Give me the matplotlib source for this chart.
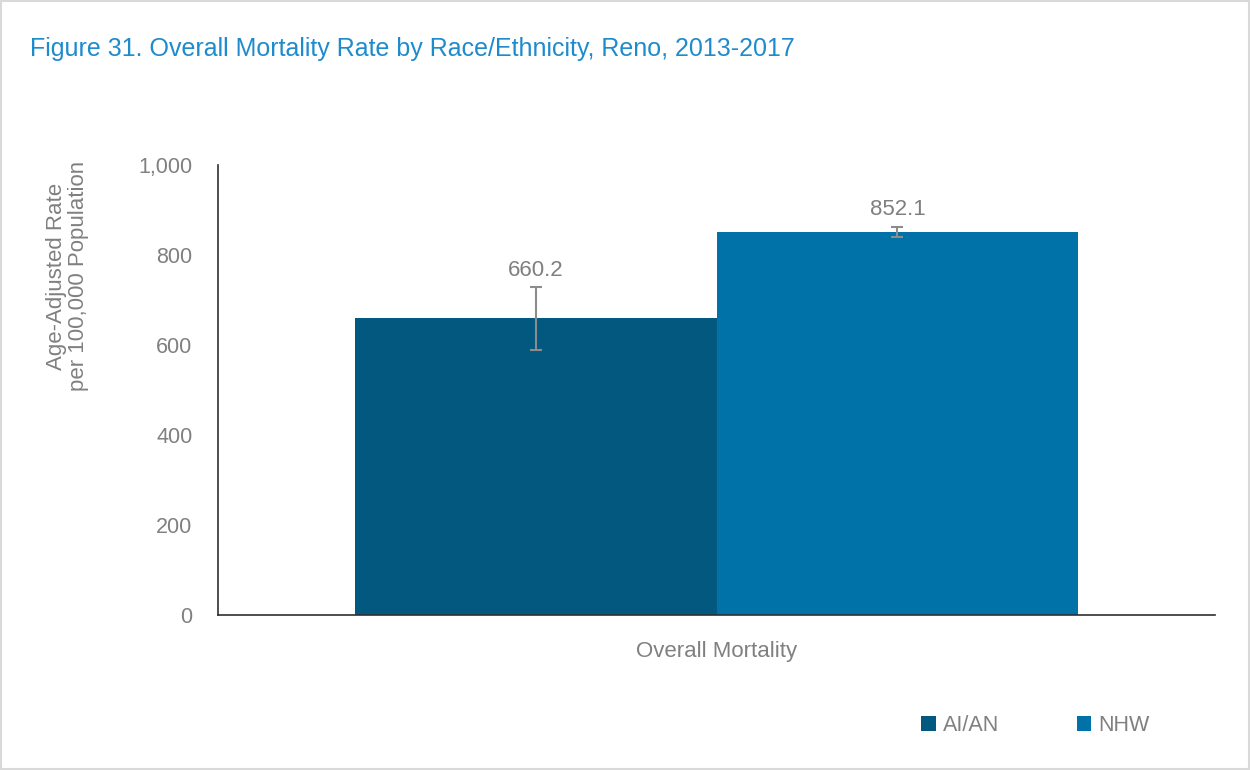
import matplotlib
matplotlib.use("Agg")
import matplotlib.pyplot as plt
from matplotlib.patches import Rectangle
import numpy as np

categories = ["Overall Mortality"]
groups = ["AI/AN", "NHW"]
values = [660.2, 852.1]
err_low = [590, 839]
err_high = [728, 863]
yticks = [0, 200, 400, 600, 800, 1000]
ytick_labels = ["0", "200", "400", "600", "800", "1,000"]
colors = ["#02587F", "#0072A8"]

FONT = ["Liberation Sans", "DejaVu Sans"]
plt.rcParams['font.family'] = FONT
GREY = "#808080"

fig = plt.figure(figsize=(12.5, 7.7), dpi=100)
fig.patches.append(Rectangle((0.001, 0.001), 0.998, 0.998, transform=fig.transFigure,
                             fill=False, edgecolor="#D9D9D9", linewidth=1.5))
ax = fig.add_axes([0.1744, 0.2013, 0.7976, 0.5844])

width = 0.363
offsets = [-width / 2, width / 2]
for i, g in enumerate(groups):
    x = offsets[i]
    ax.bar(x, values[i], width=width, color=colors[i], label=g, zorder=2)
    yerr = [[values[i] - err_low[i]], [err_high[i] - values[i]]]
    ax.errorbar(x, values[i], yerr=yerr, fmt='none', ecolor="#8C8C8C",
                elinewidth=1.5, capsize=4.3, capthick=1.5, zorder=3)
    ax.text(x, err_high[i] + 15, f"{values[i]:.1f}", ha='center', va='bottom',
            fontsize=16, color="#7F7F7F")

ax.set_xlim(-0.5, 0.5)
ax.set_ylim(0, 1000)
ax.set_yticks(yticks)
ax.set_yticklabels(ytick_labels, fontsize=15.5, color=GREY)
ax.tick_params(axis='y', length=0, pad=18.5)
ax.set_xticks([0])
ax.set_xticklabels(categories, fontsize=16, color=GREY)
ax.tick_params(axis='x', length=0, pad=19)
for s in ["top", "right"]:
    ax.spines[s].set_visible(False)
for s in ["left", "bottom"]:
    ax.spines[s].set_color("#303030")
    ax.spines[s].set_linewidth(1.2)

fig.text(0.024, 0.936, "Figure 31. Overall Mortality Rate by Race/Ethnicity, Reno, 2013-2017",
         fontsize=18, color="#1E8BCD", ha='left', va='center')

fig.text(0.054, 0.641, "Age-Adjusted Rate\nper 100,000 Population", rotation=90,
         ha='center', va='center', fontsize=16, color=GREY, linespacing=1.05)

leg = fig.legend(loc='center', bbox_to_anchor=(0.8285, 0.058), ncol=2, frameon=False,
                 fontsize=15.5, labelcolor=GREY, handlelength=0.68, handleheight=0.68,
                 handletextpad=0.35, columnspacing=3.57)

fig.savefig("out.png", dpi=100)
